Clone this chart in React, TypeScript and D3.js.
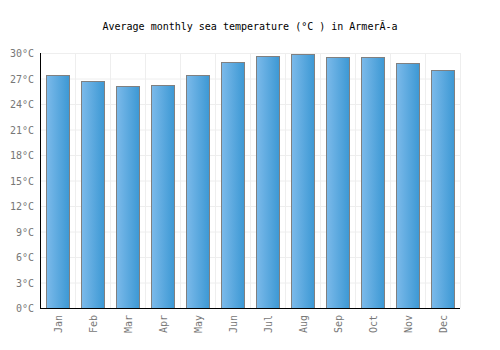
import * as d3 from "d3";
import { useEffect, useRef } from "react";

const months = ["Jan", "Feb", "Mar", "Apr", "May", "Jun", "Jul", "Aug", "Sep", "Oct", "Nov", "Dec"];
const seaTemp = [27.4, 26.7, 26.1, 26.2, 27.4, 28.9, 29.6, 29.9, 29.5, 29.5, 28.8, 28.0];
const yTicks = [0, 3, 6, 9, 12, 15, 18, 21, 24, 27, 30];
const title = "Average monthly sea temperature (\u00b0C ) in Armer\u00c3-a";

const App = () => {
  const ref = useRef<SVGSVGElement | null>(null);

  useEffect(() => {
    if (!ref.current) return;
    const svg = d3.select(ref.current);
    svg.selectAll("*").remove();

    const margin = { top: 53, right: 40, bottom: 42, left: 40 };
    const width = 500 - margin.left - margin.right;
    const height = 350 - margin.top - margin.bottom;
    const font = "'DejaVu Sans Mono', monospace";

    const defs = svg.append("defs");
    const grad = defs
      .append("linearGradient")
      .attr("id", "barGrad")
      .attr("x1", "0%")
      .attr("x2", "100%")
      .attr("y1", "0%")
      .attr("y2", "0%");
    grad.append("stop").attr("offset", "0%").attr("stop-color", "#7cbaea");
    grad.append("stop").attr("offset", "100%").attr("stop-color", "#3c98d4");

    svg
      .append("text")
      .attr("x", 250)
      .attr("y", 30)
      .attr("text-anchor", "middle")
      .style("font-family", font)
      .style("font-size", "10px")
      .attr("fill", "#000")
      .text(title);

    const g = svg.append("g").attr("transform", `translate(${margin.left},${margin.top})`);

    const x = d3.scaleBand().domain(months).range([0, width]).paddingInner(0.34).paddingOuter(0.17);
    const band = d3.scaleBand().domain(months).range([0, width]);
    const y = d3.scaleLinear().domain([0, 30]).range([height, 0]);

    // grid
    g.selectAll("line.hgrid")
      .data(yTicks)
      .enter()
      .append("line")
      .attr("x1", 0)
      .attr("x2", width)
      .attr("y1", (d) => y(d) + 0.5)
      .attr("y2", (d) => y(d) + 0.5)
      .attr("stroke", "#eeeeee");
    g.selectAll("line.vgrid")
      .data(months)
      .enter()
      .append("line")
      .attr("x1", (d) => band(d)! + band.bandwidth() + 0.5)
      .attr("x2", (d) => band(d)! + band.bandwidth() + 0.5)
      .attr("y1", 0)
      .attr("y2", height)
      .attr("stroke", "#eeeeee");

    g.selectAll("rect.bar")
      .data(seaTemp)
      .enter()
      .append("rect")
      .attr("x", (_, i) => Math.round(x(months[i])!) + 0.5)
      .attr("y", (d) => Math.round(y(d)) + 0.5)
      .attr("width", Math.round(x.bandwidth()))
      .attr("height", (d) => height - Math.round(y(d)))
      .attr("fill", "url(#barGrad)")
      .attr("stroke", "#808080")
      .attr("stroke-width", 1);

    // axes
    g.append("line")
      .attr("x1", 0.5)
      .attr("x2", 0.5)
      .attr("y1", 0)
      .attr("y2", height + 0.5)
      .attr("stroke", "#000");
    g.append("line")
      .attr("x1", 0)
      .attr("x2", width)
      .attr("y1", height + 0.5)
      .attr("y2", height + 0.5)
      .attr("stroke", "#000");

    g.selectAll("text.ytick")
      .data(yTicks)
      .enter()
      .append("text")
      .attr("x", -6)
      .attr("y", (d) => y(d) + 4)
      .attr("text-anchor", "end")
      .style("font-family", font)
      .style("font-size", "10px")
      .attr("fill", "#777")
      .text((d) => `${d}°C`);

    g.selectAll("text.xtick")
      .data(months)
      .enter()
      .append("text")
      .attr(
        "transform",
        (d) => `translate(${band(d)! + band.bandwidth() / 2 + 4},${height + 7}) rotate(-90)`
      )
      .attr("text-anchor", "end")
      .style("font-family", font)
      .style("font-size", "10px")
      .attr("fill", "#777")
      .text((d) => d);
  }, []);

  return <svg ref={ref} width={500} height={350} style={{ position: "absolute", left: 0, top: 0 }} />;
};

export default App;
